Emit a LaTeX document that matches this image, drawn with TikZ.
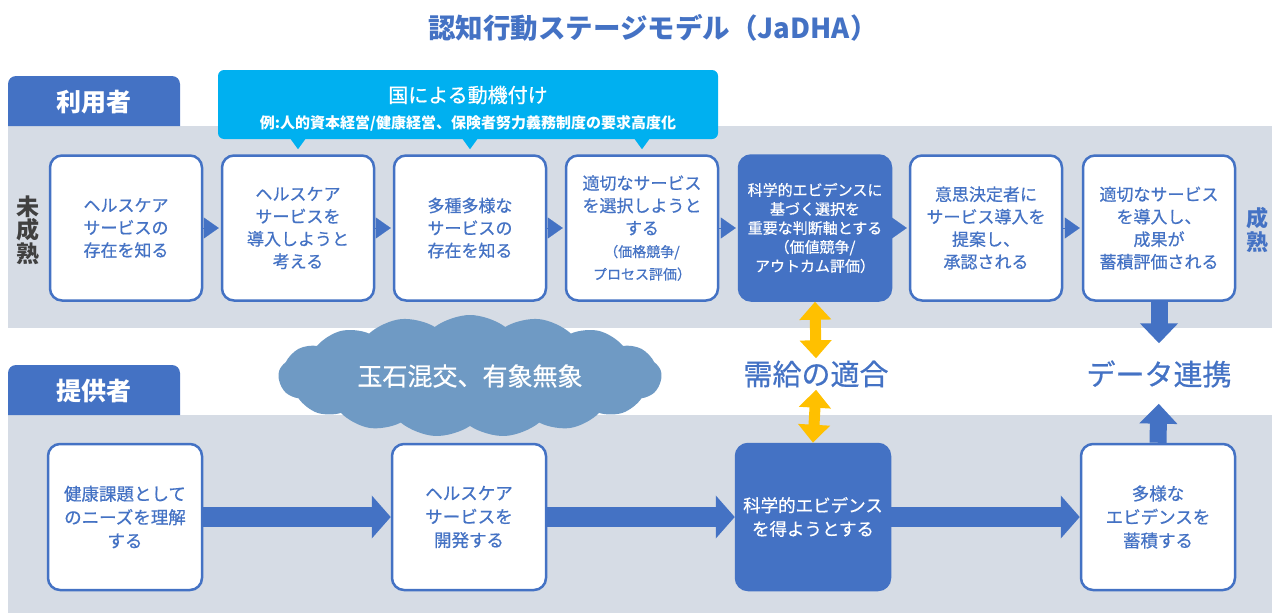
\documentclass[tikz,border=0pt]{standalone}
\usepackage{fontspec}
\setmainfont{Noto Sans CJK JP}
\newfontfamily\med{Noto Sans CJK JP}[FakeBold=0.6]
\usetikzlibrary{arrows.meta,shapes.symbols,calc}
\definecolor{mblue}{HTML}{4472C4}
\definecolor{bandc}{HTML}{D6DCE5}
\definecolor{cyanc}{HTML}{00B0F0}
\definecolor{yellowc}{HTML}{FFC000}
\definecolor{cloudc}{HTML}{6F9AC4}
\definecolor{darkc}{HTML}{404040}
\begin{document}
\begin{tikzpicture}[x=1pt,y=-1pt,
  ubox/.style={draw=mblue, line width=2.5pt, fill=white, rounded corners=12pt,
    minimum width=152pt, minimum height=145pt, text=mblue, align=center,
    inner sep=2pt, font=\med\fontsize{17}{22.5}\selectfont},
  fbox/.style={ubox, fill=mblue, text=white},
  lbox/.style={ubox, minimum width=154pt, minimum height=146pt, font=\med\fontsize{17.5}{23.5}\selectfont},
  lfbox/.style={lbox, fill=mblue, text=white},
  tabtext/.style={text=white, font=\fontsize{25}{30}\selectfont\bfseries},
  smalltri/.style={draw=mblue, line width=0.1pt, -{Triangle[length=15pt,width=21pt]}, shorten >=2pt},
  bigarrow/.style={draw=mblue, line width=20pt, -{Triangle[length=19pt,width=42pt]}},
  dataarrow/.style={draw=mblue, line width=17pt, -{Triangle[length=20pt,width=37pt]}},
  yarrow/.style={draw=yellowc, line width=11pt, {Triangle[length=18pt,width=31pt]}-{Triangle[length=18pt,width=31pt]}},
  biglabel/.style={text=mblue, inner sep=0pt, minimum height=31pt, font=\med\fontsize{29}{32}\selectfont},
]
\useasboundingbox (0,0) rectangle (1272,613);
% bands
\fill[bandc] (8,126) rectangle (1272,328);
\fill[bandc] (8,415) rectangle (1272,613);
% tabs
\fill[mblue] (8,126) [rounded corners=8pt] -- (8,76) -- (180,76) [sharp corners] -- (180,126) -- cycle;
\fill[mblue] (8,415) [rounded corners=8pt] -- (8,365) -- (180,365) [sharp corners] -- (180,415) -- cycle;
\node[tabtext] (user) at (94,102) {利用者};
\node[tabtext] (prov) at (94,391) {提供者};
% title
\node[text=mblue, font=\fontsize{27.5}{30}\selectfont\bfseries] (title) at (653,28) {認知行動ステージモデル（JaDHA）};
% top boxes
\node[ubox] (b1) at (126,228) {ヘルスケア\\サービスの\\存在を知る};
\node[ubox] (b2) at (298,228) {ヘルスケア\\サービスを\\導入しようと\\考える};
\node[ubox] (b3) at (470,228) {多種多様な\\サービスの\\存在を知る};
\node[ubox] (b4) at (642,228) {適切なサービス\\を選択しようと\\する\\{\fontsize{14}{19}\selectfont（価格競争/}\\{\fontsize{14}{19}\selectfont プロセス評価）}};
\node[fbox, font=\med\fontsize{15}{19}\selectfont] (b5) at (815,228) {科学的エビデンスに\\基づく選択を\\重要な判断軸とする\\（価値競争/\\アウトカム評価）};
\node[ubox] (b6) at (986,228) {意思決定者に\\サービス導入を\\提案し、\\承認される};
\node[ubox] (b7) at (1159,228) {適切なサービス\\を導入し、\\成果が\\蓄積評価される};
% small triangles
\foreach \a/\b in {b1/b2,b2/b3,b3/b4,b4/b5,b5/b6,b6/b7}
  \draw[smalltri] (\a.east) -- (\b.west);
% callout
\node[fill=cyanc, rounded corners=6pt, minimum width=500pt, minimum height=69pt, inner sep=0pt] (motiv) at (468,104.5) {};
\foreach \t in {b2,b3,b4}
  \fill[cyanc] ($(\t.north |- motiv.south)+(-8,-1)$) -- ($(\t.north |- motiv.south)+(8,-1)$) -- ($(\t.north)+(0,-5)$) -- cycle;
\node[text=white, font=\med\fontsize{20}{24}\selectfont] (motiv1) at (468,95) {国による動機付け};
\node[text=white, font=\fontsize{15}{18}\selectfont\bfseries] (motiv2) at (468,123) {例:人的資本経営/健康経営、保険者努力義務制度の要求高度化};
% side labels
\node[text=darkc, align=center, font=\fontsize{23}{23.5}\selectfont\bfseries] (immature) at (28,230) {未\\成\\熟};
\node[text=mblue, align=center, font=\fontsize{22}{24}\selectfont\bfseries] (mature) at (1257,230) {成\\熟};
% bottom boxes
\node[lbox] (c1) at (125,517) {健康課題として\\のニーズを理解\\する};
\node[lbox] (c2) at (469,517) {ヘルスケア\\サービスを\\開発する};
\node[lfbox] (c3) at (813,517) {科学的エビデンス\\を得ようとする};
\node[lbox] (c4) at (1158,517) {多様な\\エビデンスを\\蓄積する};
\draw[bigarrow] (c1.east) -- (c2.west);
\draw[bigarrow] (c2.east) -- (c3.west);
\draw[bigarrow] (c3.east) -- (c4.west);
% cloud
\node[cloud, cloud puffs=17, cloud puff arc=75, aspect=3.1, fill=cloudc, minimum width=383pt, minimum height=122pt, inner sep=0pt, text=white, font=\med\fontsize{25}{30}\selectfont] (cloud) at (470,376) {玉石混交、有象無象};
% middle labels
\node[biglabel] (need) at (816,374) {需給の適合};
\node[biglabel] (data) at (1159,374) {データ連携};
\draw[yarrow] (b5.south) -- (need.north);
\draw[yarrow] (need.south) -- (c3.north);
\draw[dataarrow, shorten >=15pt] (b7.south) -- (data.north);
\draw[dataarrow, shorten >=14pt] (c4.north) -- (data.south);
\end{tikzpicture}
\end{document}
